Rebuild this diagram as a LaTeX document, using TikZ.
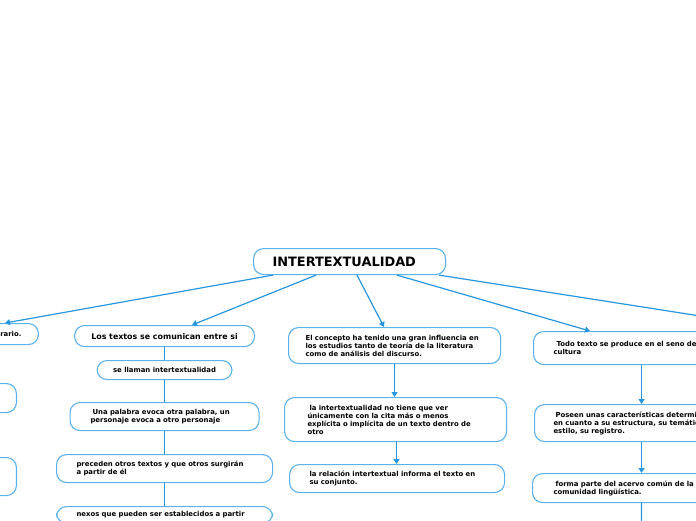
\documentclass[tikz,border=0pt]{standalone}
\usepackage{fontspec}
\setmainfont{DejaVu Sans}
\usetikzlibrary{arrows.meta,calc}
\definecolor{boxblue}{RGB}{90,178,236}
\definecolor{linkblue}{RGB}{38,150,224}

\begin{document}
\begin{tikzpicture}[x=1pt, y=-1pt,
    pill/.style={draw=boxblue, line width=1.1pt, rounded corners=10pt, fill=white, inner ysep=2pt, align=left, font=\bfseries\fontsize{6.9}{8}\selectfont},
    link/.style={draw=linkblue, line width=1.2pt},
    pointer/.style={link, -{Triangle[width=6pt,length=5pt]}}]
  \useasboundingbox (0,0) rectangle (696,520);
  \clip (0,0) rectangle (696,520);

  \node[pill, anchor=north west, text width=154pt, inner xsep=19pt, minimum height=26pt, font=\bfseries\fontsize{12.9}{14}\selectfont] (main) at (253,248) {INTERTEXTUALIDAD};

  \node[pill, anchor=north east, minimum height=21pt, text width=100pt, inner xsep=17pt, align=right] (a1) at (39,323) {rario.};
  \node[pill, anchor=north east, minimum width=150pt, minimum height=29pt] (a2) at (17,383) {};
  \node[pill, anchor=north east, minimum width=150pt, minimum height=38pt] (a3) at (17,457) {};

  \node[pill, anchor=north west, align=center, minimum width=180pt, minimum height=21pt, font=\bfseries\fontsize{7.9}{9}\selectfont] (b1) at (74,325) {Los textos se comunican entre si};
  \node[pill, anchor=north west, align=center, minimum width=135pt, minimum height=19pt] (b2) at (96.5,360) {se llaman intertextualidad};
  \node[pill, anchor=north west, text width=148pt, inner xsep=20.5pt, minimum height=28pt] (b3) at (69.5,402) {\hspace{2pt}Una palabra evoca otra palabra, un\\personaje evoca a otro personaje};
  \node[pill, anchor=north west, text width=176pt, inner xsep=20pt, minimum height=28pt] (b4) at (56,454) {preceden otros textos y que otros surgirán\\a partir de él};
  \node[pill, anchor=north west, text width=176pt, inner xsep=20pt, inner ysep=5pt] (b5) at (56,506) {nexos que pueden ser establecidos a partir};

  \node[pill, anchor=north west, text width=178pt, inner xsep=17pt, minimum height=36pt] (c1) at (288,327) {El concepto ha tenido una gran influencia en\\los estudios tanto de teoría de la literatura\\como de análisis del discurso.};
  \node[pill, anchor=north west, text width=176pt, inner xsep=23pt, minimum height=44pt] (c2) at (284,397) {\hspace{2pt}la intertextualidad no tiene que ver\\únicamente con la cita más o menos\\explícita o implícita de un texto dentro de\\otro};
  \node[pill, anchor=north west, text width=175pt, inner xsep=20pt, minimum height=28pt] (c3) at (289,464) {la relación intertextual informa el texto en\\su conjunto.};

  \node[pill, anchor=north west, text width=176pt, inner xsep=20pt, minimum height=33pt] (d1) at (533,331) {\hspace{3pt}Todo texto se produce en el seno de una\\cultura};
  \node[pill, anchor=north west, text width=176pt, inner xsep=19pt, minimum height=37pt] (d2) at (534,404) {\hspace{2pt}Poseen unas características determinadas\\en cuanto a su estructura, su temática, su\\estilo, su registro.};
  \node[pill, anchor=north west, text width=176pt, inner xsep=21pt, minimum height=29pt] (d3) at (532,473) {\hspace{2pt}forma parte del acervo común de la\\comunidad lingüística.};
  \coordinate (d4) at (641,560);
  \coordinate (e1) at (796,331);

  \draw[pointer] ($(main.south west)+(20,0)$) -- ($(a1.north east)+(-34,0)$);
  \draw[pointer] ($(main.south west)+(63,0)$) -- ($(b1.north west)+(118,0)$);
  \draw[pointer] ($(main.south west)+(104,0)$) -- ($(c1.north west)+(96,0)$);
  \draw[pointer] ($(main.south west)+(144,0)$) -- ($(d1.north west)+(57,0)$);
  \draw[pointer] ($(main.south west)+(186,0)$) -- (e1);

  \foreach \u/\v in {b1/b2,b2/b3,b3/b4,b4/b5}
    \draw[link] (\u.south) -- (\v.north);

  \draw[pointer] (c1.south) -- (c1.south |- c2.north);
  \draw[pointer] ($(c2.south)+(1,0)$) -- ($(c2.south |- c3.north)+(1,0)$);
  \draw[pointer] (d1.south) -- (d1.south |- d2.north);
  \draw[pointer] (d2.south) -- (d2.south |- d3.north);
  \draw[pointer] (d3.south) -- (d4);
\end{tikzpicture}
\end{document}
